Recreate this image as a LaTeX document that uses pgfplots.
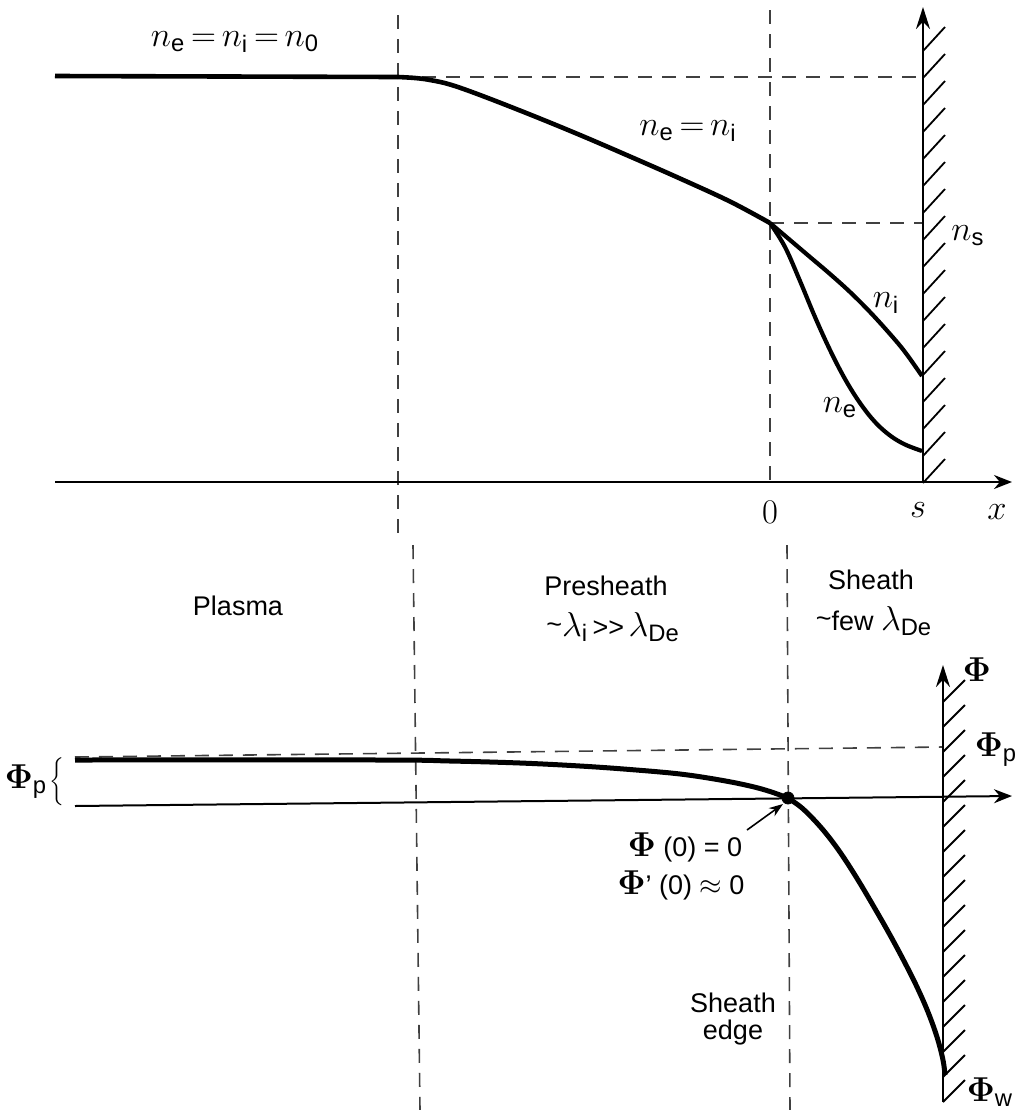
\documentclass[border=0pt]{standalone}
\usepackage{pgfplots}
\pgfplotsset{compat=1.18}
\usepackage{fontspec}
\usepackage{bm}
\setmainfont{Liberation Sans}
\usetikzlibrary{arrows.meta}
\newcommand{\tf}{\fontsize{13.5}{16}\selectfont}
\newcommand{\mf}{\fontsize{17}{20}\selectfont\thickmuskip=3mu plus 1mu}
\begin{document}
\begin{tikzpicture}
\begin{axis}[
  width=508pt, height=555pt, scale only axis,
  xmin=0, xmax=1016, ymin=0, ymax=1110, y dir=reverse,
  hide axis, clip=false, unbounded coords=jump,
  dashedline/.style={black!75, line width=0.8pt, dash pattern=on 7pt off 5pt},
]
% ---------------- top panel: densities ----------------
\addplot[dashedline] coordinates {(398,15) (398,533)};
\addplot[dashedline] coordinates {(770,10) (770,488)};
\addplot[dashedline] coordinates {(398,77) (923,77)};
\addplot[dashedline] coordinates {(770,223) (923,223)};
% x axis
\addplot[black, line width=1pt, -{Stealth[length=9pt,width=7pt]}] coordinates {(55,482) (1012,482)};
% wall
\addplot[black, line width=1pt, -{Stealth[length=11pt,width=7pt]}] coordinates {(923,483) (923,7)};
\addplot[black, line width=0.9pt] coordinates {
(923,51)(945,27) (923,nan) (923,78)(945,54) (923,nan) (923,105)(945,81) (923,nan)
(923,132)(945,108) (923,nan) (923,159)(945,135) (923,nan) (923,186)(945,162) (923,nan)
(923,213)(945,189) (923,nan) (923,240)(945,216) (923,nan) (923,267)(945,243) (923,nan)
(923,294)(945,270) (923,nan) (923,321)(945,297) (923,nan) (923,348)(945,324) (923,nan)
(923,375)(945,351) (923,nan) (923,402)(945,378) (923,nan) (923,429)(945,405) (923,nan)
(923,456)(945,432) (923,nan) (923,483)(945,459)};
% density n_e = n_i
\addplot[black, line width=2.3pt] coordinates {(55,76) (398,77)};
\addplot[black, line width=2.3pt, smooth, tension=0.6] coordinates {
(398,77) (415,78) (430,80) (450,84.5) (480,95) (530,114.5) (580,135) (630,156.5) (680,178.5) (730,201.5) (770,223)};
% n_i
\addplot[black, line width=2.1pt, smooth, tension=0.6] coordinates {
(770,223) (790,240) (810,257) (830,274) (850,292) (870,312) (890,334) (905,352) (922,376)};
% n_e
\addplot[black, line width=2.1pt, smooth, tension=0.6] coordinates {
(770,223) (785,247) (800,281) (815,317) (830,350) (845,379) (860,403) (875,422) (890,435.5) (905,444.5) (922,451)};
% labels
\node at (axis cs:235,42) {\mf $n_\mathrm{e} = n_\mathrm{i} = n_\mathrm{0}$};
\node at (axis cs:688,131) {\mf $n_\mathrm{e} = n_\mathrm{i}$};
\node at (axis cs:968,236) {\mf $n_\mathrm{s}$};
\node at (axis cs:886,303) {\mf $n_\mathrm{i}$};
\node at (axis cs:840,408) {\mf $n_\mathrm{e}$};
\node at (axis cs:770,512) {\mf $0$};
\node at (axis cs:918,510) {\mf $s$};
\node at (axis cs:997,512) {\mf $x$};
% ---------------- middle labels ----------------
\addplot[dashedline] coordinates {(413,545) (420,1110)};
\addplot[dashedline] coordinates {(787,545) (790,1110)};
\node at (axis cs:238,606) {\tf Plasma};
\node at (axis cs:606,586) {\tf Presheath};
\node at (axis cs:613,627) {\tf \raisebox{0.2ex}{\textasciitilde}{\mf$\lambda_\mathrm{i}$}\,>{}>\,{\mf$\lambda_\mathrm{De}$}};
\node at (axis cs:871,580) {\tf Sheath};
\node at (axis cs:874,621) {\tf \raisebox{0.2ex}{\textasciitilde}few {\mf$\lambda_\mathrm{De}$}};
% ---------------- bottom panel: potential ----------------
\addplot[dashedline] coordinates {(75,757) (943,747)};
\addplot[black, line width=1pt, -{Stealth[length=9pt,width=7pt]}] coordinates {(75,806) (1012,796)};
\addplot[black, line width=1pt, -{Stealth[length=11pt,width=7pt]}] coordinates {(943,1102) (943,665)};
\addplot[black, line width=0.9pt] coordinates {
(943,702)(965,680) (943,nan) (943,727)(965,705) (943,nan) (943,752)(965,730) (943,nan)
(943,777)(965,755) (943,nan) (943,802)(965,780) (943,nan) (943,827)(965,805) (943,nan)
(943,852)(965,830) (943,nan) (943,877)(965,855) (943,nan) (943,902)(965,880) (943,nan)
(943,927)(965,905) (943,nan) (943,952)(965,930) (943,nan) (943,977)(965,955) (943,nan)
(943,1002)(965,980) (943,nan) (943,1027)(965,1005) (943,nan) (943,1052)(965,1030) (943,nan)
(943,1077)(965,1055) (943,nan) (943,1102)(965,1080)};
% potential curve
\addplot[black, line width=2.5pt, smooth, tension=0.6] coordinates {
(75,760) (380,760) (450,761) (520,763) (580,766) (630,769.5) (680,774) (720,780) (750,786) (770,791.5) (788,798)};
\addplot[black, line width=2.5pt, smooth, tension=0.6] coordinates {
(788,798) (802,808) (817,823) (830,838.5) (843,856.5) (858,880) (874,907) (890,935) (905,963) (917,987) (928,1012) (937,1037) (943,1060) (945,1075)};
\addplot[only marks, mark=*, mark size=3pt, black] coordinates {(788,798)};
\addplot[black, line width=0.8pt, -{Stealth[length=7pt,width=5pt]}] coordinates {(747,830) (783,804)};
% labels
\node at (axis cs:977,670) {\mf $\bm{\Phi}$};
\node at (axis cs:996,750) {\mf $\bm{\Phi}_\mathrm{p}$};
\node at (axis cs:990,1092) {\mf $\bm{\Phi}_\mathrm{w}$};
\node at (axis cs:26,782) {\mf $\bm{\Phi}_\mathrm{p}$};
\node at (axis cs:58,782) {$\left\{\rule{0pt}{12.5pt}\right.$};
\node at (axis cs:685,847) {\tf {\mf$\bm{\Phi}$} (0) = 0};
\node at (axis cs:681,885) {\tf {\mf$\bm{\Phi}$}' (0) $\approx$ 0};
\node at (axis cs:733,1003) {\tf Sheath};
\node at (axis cs:733,1033) {\tf edge};
\end{axis}
\pgfresetboundingbox
\path (current axis.south west) rectangle (current axis.north east);
\end{tikzpicture}
\end{document}
